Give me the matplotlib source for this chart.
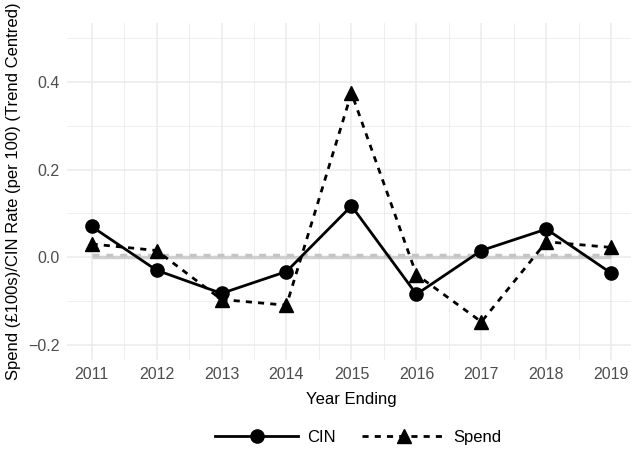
import matplotlib
matplotlib.use("Agg")
import matplotlib.pyplot as plt
from matplotlib.lines import Line2D
from matplotlib.ticker import MultipleLocator

plt.rcParams["font.family"] = ["Liberation Sans", "DejaVu Sans"]

years = [2011, 2012, 2013, 2014, 2015, 2016, 2017, 2018, 2019]
cin = [0.070, -0.030, -0.083, -0.033, 0.117, -0.085, 0.015, 0.064, -0.037]
spend = [0.030, 0.015, -0.097, -0.110, 0.375, -0.040, -0.148, 0.035, 0.022]
trend_cin = [0.0] * len(years)
trend_spend = [0.005] * len(years)

fig = plt.figure(figsize=(6.31, 4.51), dpi=100)
ax = fig.add_axes([0.106, 0.202, 0.902, 0.747])

# trend lines
ax.plot(years, trend_cin, color="#D0D0D0", lw=2.5, solid_capstyle="butt", zorder=2)
ax.plot(years, trend_spend, color="#C4C4C4", lw=2.5, ls=(0, (2, 2)), zorder=2)

ax.plot(years, cin, color="black", lw=2, marker="o", ms=9.5, zorder=4)
ax.plot(years, spend, color="black", lw=2, ls=(0, (2.2, 2.2)), marker="^", ms=10.5, zorder=3)

ax.set_xlim(2010.62, 2019.38)
ax.set_ylim(-0.235, 0.535)
ax.set_xticks(years)
ax.xaxis.set_minor_locator(MultipleLocator(0.5))
ax.yaxis.set_minor_locator(MultipleLocator(0.1))
ax.set_yticks([-0.2, 0.0, 0.2, 0.4])
ax.set_yticklabels(["\u22120.2", "0.0", "0.2", "0.4"])

ax.grid(which="major", color="#EBEBEB", lw=1.1)
ax.grid(which="minor", color="#EBEBEB", lw=0.6)
ax.set_axisbelow(True)
for s in ax.spines.values():
    s.set_visible(False)
ax.tick_params(which="both", length=0, labelsize=11.5, labelcolor="#4D4D4D", pad=5)

ax.set_xlabel("Year Ending", fontsize=12, labelpad=7)
ax.set_ylabel("Spend (\u00a3100s)/CIN Rate (per 100) (Trend Centred)", fontsize=12, labelpad=5)

handles = [
    Line2D([], [], color="black", lw=2, marker="o", ms=9.5),
    Line2D([], [], color="black", lw=2, ls=(0, (2.2, 2.2)), marker="^", ms=10.5),
]
fig.legend(handles, ["CIN", "Spend"], loc="center", bbox_to_anchor=(0.568, 0.031),
           ncol=2, frameon=False, fontsize=12, handlelength=5.0, columnspacing=1.6,
           handletextpad=0.5)

fig.savefig("out.png", dpi=100)
